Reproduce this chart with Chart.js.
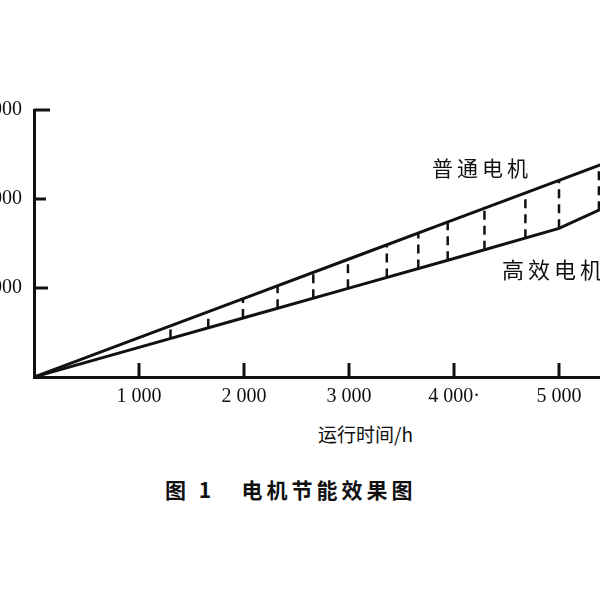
<!DOCTYPE html>
<html><head><meta charset="utf-8">
<script src="https://cdn.jsdelivr.net/npm/chart.js@4"></script>
<style>
body{margin:0;background:#fff;overflow:hidden;width:600px;height:600px;position:relative}
#wrap{position:absolute;left:-60px;top:0;width:724px;height:420px}
.t{position:absolute;font-family:"Noto Sans CJK SC";color:#111;white-space:nowrap}
</style></head><body>
<div id="wrap"><canvas id="c"></canvas></div>
<div class="t" style="left:432px;top:152px;font-size:21px;letter-spacing:4px">普通电机</div>
<div class="t" style="left:502px;top:252px;font-size:22px;letter-spacing:4px">高效电机</div>
<div class="t" style="left:318px;top:420px;font-size:19px">运行时间/h</div>
<div class="t" style="left:165px;top:474px;font-size:21px;font-weight:bold;letter-spacing:4px">图 1&nbsp;&nbsp;&nbsp;电机节能效果图</div>
<script>
const hours=[0,1000,2000,3000,4000,5000,6000];
const ordinary=[0,0.442,0.884,1.326,1.768,2.21,2.652];
const efficient=[0,0.333,0.666,0.999,1.332,1.67,2.21];
const dashX=[1300,1660,1990,2320,2660,2990,3360,3660,3940,4290,4680,5000,5380];
const dashTop=[0.575,0.734,0.880,1.025,1.176,1.322,1.485,1.618,1.741,1.896,2.069,2.21,2.378];
const dashBot=[0.433,0.553,0.663,0.773,0.886,0.996,1.119,1.219,1.312,1.429,1.558,1.67,1.875];
const xTicks=[1000,2000,3000,4000,5000];
const yTicks=[1,2,3];
const yLabels={1:'1 000',2:'2 000',3:'3 000'};
const ds=[
 {data:hours.map((h,i)=>({x:h,y:ordinary[i]})),borderColor:'#111',borderWidth:3,pointRadius:0},
 {data:hours.map((h,i)=>({x:h,y:efficient[i]})),borderColor:'#111',borderWidth:3,pointRadius:0}
];
dashX.forEach((x,i)=>ds.push({data:[{x:x,y:dashBot[i]},{x:x,y:dashTop[i]}],borderColor:'#111',borderWidth:2.5,borderDash:[9,6],pointRadius:0}));
const inTicks={id:'inTicks',afterDraw(ch){const c=ch.ctx,xs=ch.scales.x,ys=ch.scales.y;c.save();c.strokeStyle='#111';c.lineWidth=3;
 xTicks.forEach(v=>{const p=xs.getPixelForValue(v);c.beginPath();c.moveTo(p,ys.bottom);c.lineTo(p,ys.bottom-14);c.stroke();});
 yTicks.forEach(v=>{const p=ys.getPixelForValue(v);c.beginPath();c.moveTo(xs.left,p);c.lineTo(xs.left+(v==2?12:v==3?16:14),p);c.stroke();});
 c.restore();}};
new Chart(document.getElementById('c'),{type:'line',data:{datasets:ds},plugins:[inTicks],
options:{responsive:true,maintainAspectRatio:false,animation:false,layout:{padding:{left:0,right:0,top:110,bottom:0}},
plugins:{legend:{display:false},tooltip:{enabled:false}},
scales:{
 x:{type:'linear',min:0,max:6000,afterFit(s){s.height=43},afterBuildTicks(s){s.ticks=xTicks.map(v=>({value:v}))},
  grid:{display:false,drawTicks:false},border:{display:true,color:'#111',width:3},
  ticks:{color:'#111',padding:8,font:{family:'Liberation Serif',size:20},callback:v=>String(v).replace(/(\d)(\d{3})$/,'$1 $2')+(v==4000?'·':'')}},
 y:{min:0,max:3,afterFit(s){s.width=94},afterBuildTicks(s){s.ticks=yTicks.map(v=>({value:v}))},
  grid:{display:false,drawTicks:false},border:{display:true,color:'#111',width:3},
  ticks:{color:'#111',padding:12,font:{family:'Liberation Serif',size:20},callback:v=>yLabels[v]}}
}}});
</script></body></html>
